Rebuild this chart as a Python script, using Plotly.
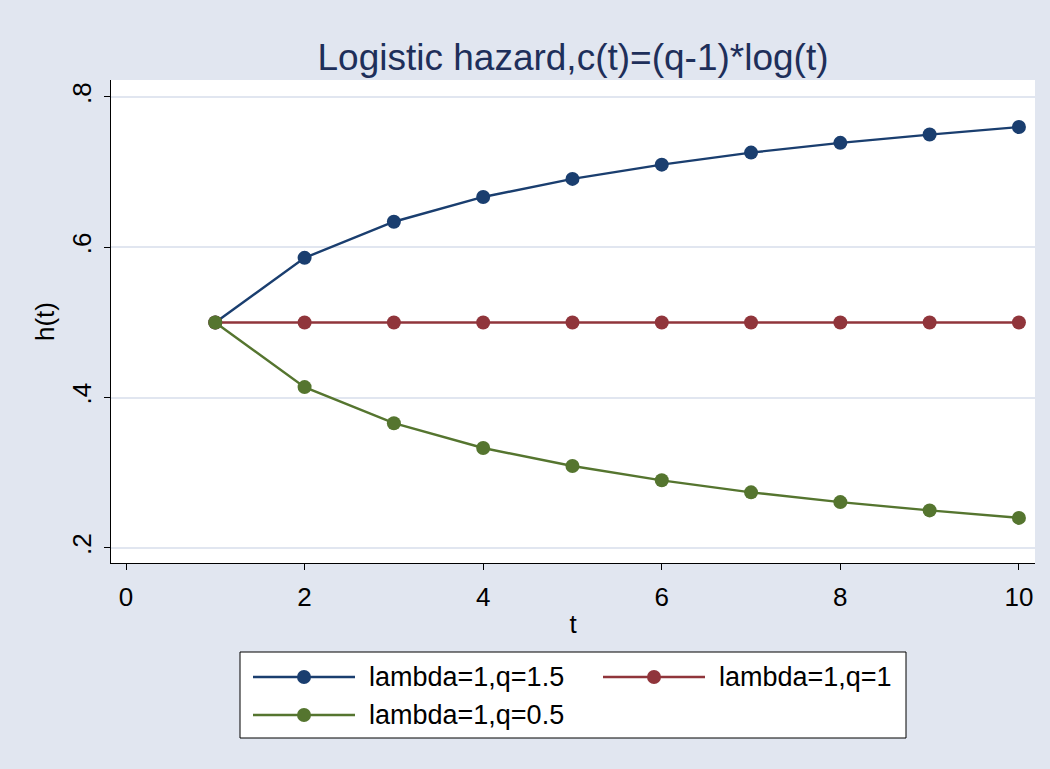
import plotly.graph_objects as go

t = [1, 2, 3, 4, 5, 6, 7, 8, 9, 10]
h_q15 = [0.500, 0.586, 0.634, 0.667, 0.691, 0.710, 0.726, 0.739, 0.750, 0.760]
h_q1 = [0.500, 0.500, 0.500, 0.500, 0.500, 0.500, 0.500, 0.500, 0.500, 0.500]
h_q05 = [0.500, 0.414, 0.366, 0.333, 0.309, 0.290, 0.274, 0.261, 0.250, 0.240]
names = ["lambda=1,q=1.5", "lambda=1,q=1", "lambda=1,q=0.5"]
colors = ["#1A3E6F", "#90353B", "#55752F"]
x_ticks = [0, 2, 4, 6, 8, 10]
y_ticks = [0.2, 0.4, 0.6, 0.8]
y_ticklabels = [".2", ".4", ".6", ".8"]

BG = "#E1E6F0"
FONT = "Liberation Sans, Arial, sans-serif"
W, H = 1050, 769
ML, MR, MT, MB = 111, 15, 80, 206
PW, PH = W - ML - MR, H - MT - MB


def px(xp):
    return (xp - ML) / PW


def py(yp):
    return (H - MB - yp) / PH


fig = go.Figure()
for ys, nm, c in zip([h_q15, h_q1, h_q05], names, colors):
    fig.add_trace(go.Scatter(
        x=t, y=ys, name=nm, mode="lines+markers",
        line=dict(color=c, width=2.4),
        marker=dict(color=c, size=14),
        showlegend=False,
    ))

# Stata-style legend box (two columns, long keys)
shapes = [dict(type="rect", xref="paper", yref="paper",
               x0=px(240), x1=px(906), y0=py(738), y1=py(652),
               fillcolor="white", line=dict(color="black", width=1), layer="above")]
annotations = []
slots = [(253, 677), (603, 677), (253, 715)]
for (x0, yc), nm, c in zip(slots, names, colors):
    shapes.append(dict(type="line", xref="paper", yref="paper",
                       x0=px(x0), x1=px(x0 + 102), y0=py(yc), y1=py(yc),
                       line=dict(color=c, width=2.4), layer="above"))
    shapes.append(dict(type="circle", xref="paper", yref="paper",
                       x0=px(x0 + 51 - 7), x1=px(x0 + 51 + 7),
                       y0=py(yc + 7), y1=py(yc - 7),
                       fillcolor=c, line=dict(color=c, width=0), layer="above"))
    annotations.append(dict(xref="paper", yref="paper", x=px(x0 + 114), y=py(yc),
                            xanchor="left", yanchor="middle", text=nm, showarrow=False,
                            font=dict(size=27, family=FONT, color="black")))

fig.update_layout(
    width=W, height=H,
    paper_bgcolor=BG, plot_bgcolor="white",
    margin=dict(l=ML, r=MR, t=MT, b=MB),
    font=dict(family=FONT, color="black", size=26),
    title=dict(text="Logistic hazard,c(t)=(q-1)*log(t)", x=573 / W, xanchor="center",
               y=1 - 57 / H, yanchor="middle",
               font=dict(size=37, color="#1E2F5A", family=FONT)),
    showlegend=False,
    shapes=shapes,
    annotations=annotations,
)
fig.update_xaxes(
    range=[-0.168, 10.18], tickvals=x_ticks, showgrid=False, zeroline=False,
    showline=True, linecolor="black", linewidth=1, mirror=False,
    ticks="outside", ticklen=6, tickcolor="black", ticklabelstandoff=5,
    tickfont=dict(size=26), title=dict(text="t", font=dict(size=26), standoff=3),
)
fig.update_yaxes(
    range=[0.18, 0.8226], tickvals=y_ticks, ticktext=y_ticklabels, tickangle=-90,
    showgrid=True, gridcolor=BG, gridwidth=2, zeroline=False,
    showline=True, linecolor="black", linewidth=1,
    ticks="outside", ticklen=6, tickcolor="black", ticklabelstandoff=3,
    tickfont=dict(size=26), title=dict(text="h(t)", font=dict(size=26), standoff=4),
)

fig.write_html("out.html", config={"displayModeBar": False},
               post_script="document.body.style.margin='0';")
